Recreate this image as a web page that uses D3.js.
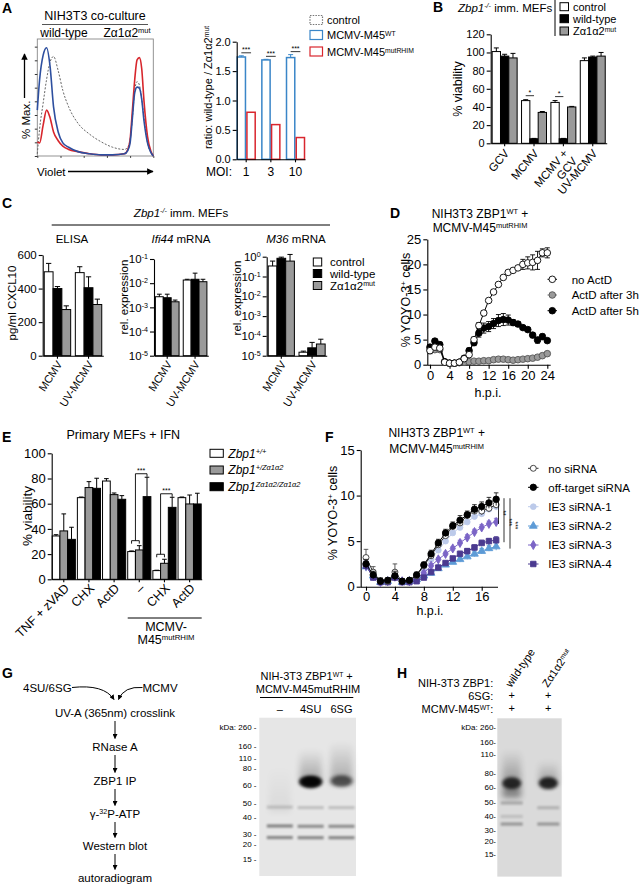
<!DOCTYPE html>
<html><head><meta charset="utf-8">
<script src="https://cdn.jsdelivr.net/npm/d3@7/dist/d3.min.js"></script>
<style>html,body{margin:0;padding:0;background:#fff}svg{display:block}</style>
</head><body>
<svg id="fig" width="639" height="886" font-family="'Liberation Sans', Arial, Helvetica, sans-serif"></svg>
<script>
// ================= DATA =================
// A: flow histogram (% of max vs violet channel)
const histChannel = [0,2,5,8,11,14,18,22,27,35,45,55,65,75,78,80,82,84,86,88,90,92,95,98,100];
const histControl = [2,25,48,70,86,91,78,60,45,30,20,13,8,6,8,15,35,60,68,65,52,35,12,3,0];
const histM45WT   = [42,70,92,99,82,45,22,12,8,4,2,1,1,2,5,12,35,58,63,62,52,32,12,3,0];
const histM45mut  = [13,12,28,42,35,22,14,9,6,4,2,1,1,2,6,15,42,70,88,90,80,50,18,4,0];
// A: ratio bars
const moiLabels = ["1","3","10"];
const ratioM45WT = [1.74,1.69,1.73];
const ratioM45WTErr = [0.02,0.01,0.05];
const ratioM45mut = [0.80,0.59,0.37];
const ratioTicks = [0,0.5,1,1.5,2];
// B
const bCats = ["GCV","MCMV","MCMV +\nGCV","UV-MCMV"];
const bControl = [101,47,45,91], bControlErr = [4,1,2,3];
const bWT = [96,5,5,95], bWTErr = [2,0.4,0.4,1];
const bMut = [94,34,40,96], bMutErr = [5,1,0.6,4];
const bTicks = [0,20,40,60,80,100,120];
// C
const cCats = ["MCMV","UV-MCMV"];
const elisaControl = [500,495], elisaControlErr = [50,35];
const elisaWT = [400,405], elisaWTErr = [12,65];
const elisaMut = [275,305], elisaMutErr = [22,32];
const elisaTicks = [0,200,400,600];
const ifi44Control = [2.75e-3,1.35e-2], ifi44ControlTop = [3.5e-3,1.45e-2];
const ifi44WT = [2.5e-3,1.45e-2], ifi44WTTop = [3.5e-3,2.6e-2];
const ifi44Mut = [1.7e-3,1.15e-2], ifi44MutTop = [2.0e-3,1.45e-2];
const ifi44Ticks = [1e-5,1e-4,1e-3,1e-2,1e-1];
const m36Control = [0.34,1.5e-5], m36ControlTop = [0.6,1.7e-5];
const m36WT = [0.83,2.5e-5], m36WTTop = [0.95,4.7e-5];
const m36Mut = [0.6,3.9e-5], m36MutTop = [1.3,6.8e-5];
const m36Ticks = [1e-5,1e-4,1e-3,1e-2,1e-1,1];
// D
const dHours = [0,1,2,3,4,5,6,7,8,9,10,11,12,13,14,15,16,17,18,19,20,21,22,23,24];
const dNoActD = [2.8,3.5,3.3,0.5,0.3,0.3,0.5,1.2,2.0,5.0,7.8,10.3,12.8,14.5,16.0,17.4,18.4,18.8,19.3,20.0,20.3,20.4,20.8,22.3,22.3];
const dNoActDErr = [0.6,0.5,0.4,0.2,0.1,0.1,0.1,0.2,0.3,0.5,0.6,0.5,0.4,0.4,0.4,0.4,0.4,0.4,0.4,1.0,1.2,1.5,1.8,0.8,1.0];
const dActD3h = [3.0,3.0,3.0,0.5,0.3,0.3,0.4,0.5,0.6,0.7,0.7,0.8,0.8,1.0,1.1,1.1,1.0,0.9,1.0,1.1,1.2,1.3,1.5,1.8,2.2];
const dActD3hErr = [0.4,0.3,0.3,0.1,0.1,0.1,0.1,0.1,0.1,0.1,0.1,0.1,0.1,0.2,0.4,0.3,0.2,0.2,0.2,0.2,0.2,0.2,0.2,0.2,0.3];
const dActD5h = [3.5,4.7,4.0,0.6,0.3,0.3,0.5,1.3,2.8,4.4,6.3,7.3,7.6,8.2,8.8,9.0,8.9,8.4,8.1,7.4,7.0,5.9,4.9,5.6,4.8];
const dActD5hErr = [0.5,0.4,0.5,0.1,0.1,0.1,0.1,0.3,0.5,0.6,0.8,1.0,1.0,1.0,1.2,1.2,1.0,0.6,0.5,0.4,0.4,0.5,0.6,0.5,0.4];
const dTicksX = [0,4,8,12,16,20,24], dTicksY = [0,5,10,15,20,25];
const dLegend = ["no ActD","ActD after 3h","ActD after 5h"];
// E
const eCats = ["TNF + zVAD","CHX","ActD","–","CHX","ActD"];
const eWT = [34.4,64.8,78,22,6.9,64.8], eWTErr = [1,0.5,1.9,0.5,0.3,0.5];
const eHet = [38.4,72.8,67.2,23.3,12.7,59.8], eHetErr = [13.5,4.7,1.3,3.4,3.2,7.1];
const eHom = [31.7,72.2,63.5,65.6,57.1,59.8], eHomErr = [9.6,8,2.9,15.4,8,8.5];
const eTicks = [0,20,40,60,80,100];
// F
const fHours = [0,1,2,3,4,5,6,7,8,9,10,11,12,13,14,15,16,17,18];
const fNoSi   = [3.2,1.6,0.6,0.6,1.6,0.6,0.7,1.2,2.3,3.4,4.6,5.6,6.6,7.0,7.8,8.3,8.3,8.6,9.0];
const fNoSiErr= [0.9,0.6,0.4,0.3,0.9,0.3,0.3,0.3,0.3,0.3,0.3,0.3,0.3,0.3,0.3,0.3,0.4,0.4,0.4];
const fOffT   = [2.5,1.3,0.6,0.7,1.2,0.6,0.7,1.3,2.4,3.6,4.8,5.9,6.7,7.3,7.9,8.5,8.8,9.2,9.6];
const fOffTErr= [0.5,0.4,0.3,0.3,0.5,0.3,0.3,0.3,0.3,0.4,0.4,0.4,0.4,0.5,0.4,0.5,0.5,0.6,0.7];
const fSi1 = [2.3,1.2,0.5,0.6,1.0,0.6,0.7,1.1,1.9,3.0,4.0,5.0,5.9,6.5,7.1,7.7,8.0,8.5,8.8];
const fSi2 = [2.2,1.2,0.5,0.6,1.1,0.5,0.6,0.8,1.2,1.5,2.0,2.4,2.7,3.0,3.3,3.6,3.9,4.2,4.4];
const fSi3 = [2.3,1.2,0.5,0.6,1.1,0.6,0.6,0.9,1.5,2.3,3.0,3.6,4.2,4.8,5.4,6.0,6.5,6.9,7.1];
const fSi4 = [2.3,1.0,0.5,0.5,1.0,0.5,0.5,0.6,1.0,1.6,2.1,2.6,3.1,3.6,3.9,4.3,4.8,5.0,5.1];
const fSiErr = [0.5,0.3,0.2,0.2,0.3,0.2,0.2,0.2,0.2,0.2,0.2,0.2,0.2,0.3,0.3,0.3,0.3,0.3,0.4];
const fTicksX = [0,4,8,12,16], fTicksY = [0,5,10,15];
const fLegend = ["no siRNA","off-target siRNA","IE3 siRNA-1","IE3 siRNA-2","IE3 siRNA-3","IE3 siRNA-4"];
const fSigLabels = ["**","***","***"];
// G
const gSteps = ["UV-A (365nm) crosslink","RNase A","ZBP1 IP","γ-|32|P-ATP","Western blot","autoradiogram"];
const gLanes = ["–","4SU","6SG"];
const gMarkers = [260,160,110,80,60,50,40,30,20,15];
const gMarkerMig = [0.057,0.179,0.256,0.32,0.425,0.541,0.629,0.737,0.797,0.894];
const gBandsData = [["–",0.565,0.15],["–",0.684,0.42],["–",0.757,0.4],
  ["4SU",0.568,0.16],["4SU",0.686,0.38],["4SU",0.758,0.4],
  ["6SG",0.568,0.16],["6SG",0.686,0.38],["6SG",0.758,0.4]];
const gBlobs = [["4SU",0.405,1.0],["6SG",0.40,0.42]];
const gSmears = [["4SU",0.2,0.41,0.3],["6SG",0.15,0.42,0.28],["–",0.3,0.6,0.05]];
// H
const hLanes = ["wild-type","Zα1α2mut"];
const hMarkers = [260,160,110,80,60,50,40,30,20,15];
const hMarkerMig = [0.057,0.148,0.227,0.344,0.438,0.533,0.617,0.706,0.775,0.859];
const hBandsData = [["wild-type",0.535,0.22],["wild-type",0.62,0.12],["wild-type",0.668,0.3],
  ["Zα1α2mut",0.565,0.18],["Zα1α2mut",0.668,0.3]];
const hBlobs = [["wild-type",0.41,0.62],["Zα1α2mut",0.41,0.68]];
const hSmears = [["wild-type",0.2,0.5,0.45],["Zα1α2mut",0.27,0.42,0.3]];

// ================= HELPERS =================
const svg = d3.select("#fig");
const defs = svg.append("defs");
defs.append("marker").attr("id","arrow").attr("viewBox","0 0 10 10").attr("refX",9).attr("refY",5)
  .attr("markerWidth",5).attr("markerHeight",5).attr("orient","auto")
  .append("path").attr("d","M0,0 L10,5 L0,10 z").attr("fill","#000");
[["b1",0.8],["b2",1.8],["b3",3]].forEach(([id,s]) => defs.append("filter").attr("id",id)
  .attr("x","-60%").attr("y","-60%").attr("width","220%").attr("height","220%")
  .append("feGaussianBlur").attr("stdDeviation",s));
const sg = defs.append("linearGradient").attr("id","smearGrad").attr("x1",0).attr("x2",0).attr("y1",0).attr("y2",1);
sg.append("stop").attr("offset","0").attr("stop-color","#000").attr("stop-opacity",0);
sg.append("stop").attr("offset","1").attr("stop-color","#000").attr("stop-opacity",1);

function rich(g, x, y, parts, o = {}) {
  const t = g.append("text").attr("font-size", o.size || 11).attr("text-anchor", o.anchor || "start").attr("fill", "#000");
  if (o.rot != null) t.attr("transform", `translate(${x},${y}) rotate(${o.rot})`);
  else t.attr("x", x).attr("y", y);
  if (o.bold) t.attr("font-weight", "bold");
  if (o.italic) t.attr("font-style", "italic");
  const arr = typeof parts === "string" ? [[parts, ""]] : parts;
  arr.forEach(([s, st = ""]) => {
    const ts = t.append("tspan").text(s);
    if (st.includes("^")) ts.attr("baseline-shift", "super").attr("font-size", "0.62em");
    if (st.includes("i")) ts.attr("font-style", "italic");
  });
  return t;
}
function styleAx(sel, size) {
  sel.attr("font-family", null).attr("font-size", size);
  sel.selectAll("path,line").attr("stroke", "#000").attr("stroke-width", 1.1);
  sel.selectAll("text").attr("fill", "#000");
}
function logLabels(sel) {
  sel.selectAll(".tick text").each(function(d) {
    const e = Math.round(Math.log10(d));
    const t = d3.select(this).text("");
    t.append("tspan").text("10");
    t.append("tspan").attr("baseline-shift","super").attr("font-size","0.62em").text(e);
  });
}
function rotLabel(g, x, y, label, rot, size) {
  const t = g.append("text").attr("transform", `translate(${x},${y}) rotate(${rot})`)
    .attr("text-anchor", "end").attr("font-size", size).attr("fill", "#000");
  label.split("\n").forEach((l, i) => t.append("tspan").attr("x", 0).attr("dy", i === 0 ? "0.35em" : "1.05em").text(l));
}
function barChart(g, o) {
  const x = d3.scaleBand().domain(d3.range(o.cats.length)).range([o.x0, o.x1]).paddingInner(o.pi).paddingOuter(o.po);
  const xs = d3.scaleBand().domain(d3.range(o.series.length)).range([0, x.bandwidth()]).paddingInner(o.inner || 0);
  const y = (o.log ? d3.scaleLog() : d3.scaleLinear()).domain(o.yDomain).range([o.yBot, o.yTop]);
  const base = o.yDomain[0];
  o.series.forEach((s, si) => {
    g.append("g").selectAll("rect").data(s.vals).join("rect")
      .attr("x", (d, i) => x(i) + xs(si)).attr("width", xs.bandwidth())
      .attr("y", d => y(d)).attr("height", d => y(base) - y(d))
      .attr("fill", s.fill).attr("stroke", s.stroke || "#000").attr("stroke-width", s.sw || 1);
  });
  o.series.forEach((s, si) => {
    if (!s.err) return;
    const eg = g.append("g").attr("stroke", s.stroke || "#000").attr("stroke-width", 1);
    s.vals.forEach((d, i) => {
      const cx = x(i) + xs(si) + xs.bandwidth() / 2, w = xs.bandwidth() * 0.3;
      const yt = y(o.log ? s.err[i] : d + s.err[i]);
      eg.append("line").attr("x1", cx).attr("x2", cx).attr("y1", y(d)).attr("y2", yt);
      eg.append("line").attr("x1", cx - w).attr("x2", cx + w).attr("y1", yt).attr("y2", yt);
    });
  });
  const ya = g.append("g").attr("transform", `translate(${o.x0},0)`)
    .call(d3.axisLeft(y).tickValues(o.yTicks).tickSize(4).tickPadding(2).tickSizeOuter(0).tickFormat(o.fmt || (d => d)));
  styleAx(ya, o.font || 11);
  if (o.log) logLabels(ya);
  const xa = g.append("g").attr("transform", `translate(0,${o.yBot})`)
    .call(d3.axisBottom(x).tickSize(3).tickSizeOuter(0).tickFormat(""));
  styleAx(xa, o.font || 11);
  return { x, xs, y };
}
function symFor(type, size) { return d3.symbol().type(type).size(size)(); }

// ================= PANEL LETTERS =================
[["A",2,13],["B",433,12],["C",2,208],["D",390,218],["E",2,442],["F",325,442],["G",2,678],["H",397,678]]
  .forEach(([l,x,y]) => rich(svg, x, y, l, {size:14, bold:true}));

// ================= PANEL A =================
const gA = svg.append("g");
rich(gA, 95, 20, "NIH3T3 co-culture", {size:12.5, anchor:"middle"});
gA.append("line").attr("x1",42).attr("x2",148).attr("y1",24.5).attr("y2",24.5).attr("stroke","#555").attr("stroke-width",1);
rich(gA, 64, 36.5, "wild-type", {size:12, anchor:"middle"});
rich(gA, 127, 36.5, [["Zα1α2"],["mut","^"]], {size:12, anchor:"middle"});
const hx = d3.scaleLinear().domain([0,100]).range([37.3,153.3]);
const hy = d3.scaleLinear().domain([0,107]).range([156,39]);
gA.append("rect").attr("x",37.3).attr("y",39).attr("width",116).attr("height",117).attr("fill","none").attr("stroke","#888").attr("stroke-width",0.9);
gA.append("g").attr("transform","translate(37.3,0)")
  .call(d3.axisLeft(hy).tickValues([0,12.5,25,37.5,50,62.5,75,87.5,100]).tickSize(2.5).tickSizeOuter(0).tickFormat(""))
  .call(s => { styleAx(s, 8); s.selectAll("line").attr("stroke-width",0.8); s.select(".domain").remove(); });
const hlog = d3.scaleLog().domain([1,1e5]).range([37.3,153.3]);
gA.append("g").attr("transform","translate(0,156)")
  .call(d3.axisBottom(hlog).ticks(5).tickSize(2).tickSizeOuter(0).tickFormat(""))
  .call(s => { styleAx(s, 8); s.selectAll("line").attr("stroke-width",0.7); s.select(".domain").remove(); });
const hLine = vals => d3.line().curve(d3.curveMonotoneX).x((d,i) => hx(histChannel[i])).y(d => hy(d))(vals);
gA.append("path").attr("d", hLine(histControl)).attr("fill","none").attr("stroke","#666").attr("stroke-width",1).attr("stroke-dasharray","2,1.6");
gA.append("path").attr("d", hLine(histM45mut)).attr("fill","none").attr("stroke","#d7262c").attr("stroke-width",1.6);
gA.append("path").attr("d", hLine(histM45WT)).attr("fill","none").attr("stroke","#2d4f9f").attr("stroke-width",1.6);
gA.append("line").attr("x1",24.5).attr("x2",24.5).attr("y1",98).attr("y2",54).attr("stroke","#000").attr("stroke-width",1.3).attr("marker-end","url(#arrow)");
rich(gA, 29.5, 139, "% Max.", {size:11.5, rot:-90});
rich(gA, 37, 175.5, "Violet", {size:11.5});
gA.append("line").attr("x1",68).attr("x2",153).attr("y1",171.5).attr("y2",171.5).attr("stroke","#000").attr("stroke-width",1.3).attr("marker-end","url(#arrow)");

// A bars
const gAb = svg.append("g");
const ab = barChart(gAb, {x0:236.7, x1:305, yTop:41.7, yBot:159.3, yDomain:[0,2], yTicks:ratioTicks,
  fmt: d3.format(".1f"), cats: moiLabels, pi:0.27, po:0.02, inner:0.15, font:11,
  series:[{vals:ratioM45WT, err:ratioM45WTErr, fill:"#fff", stroke:"#3a86c8", sw:1.5},
          {vals:ratioM45mut, fill:"#fff", stroke:"#d9262e", sw:1.5}]});
moiLabels.forEach((l,i) => {
  rich(gAb, ab.x(i) + ab.x.bandwidth()/2, 176, l, {size:12, anchor:"middle"});
  const c1 = ab.x(i) + ab.xs(0) + ab.xs.bandwidth()/2, c2 = ab.x(i) + ab.xs(1) + ab.xs.bandwidth()/2;
  const yl = ab.y(ratioM45WT[i] + ratioM45WTErr[i]) - 3;
  gAb.append("line").attr("x1",c1).attr("x2",c2).attr("y1",yl).attr("y2",yl).attr("stroke","#000").attr("stroke-width",0.8);
  rich(gAb, (c1+c2)/2, yl - 0.5, "***", {size:7, anchor:"middle"});
});
rich(gAb, 206, 176, "MOI:", {size:12});
rich(gAb, 212, 87.5, [["ratio: wild-type / Zα1α2"],["mut","^"]], {size:11, rot:-90, anchor:"middle"});
// A legend
const aLeg = [
  {parts:[["control"]], stroke:"#777", dash:"1.5,1.2"},
  {parts:[["MCMV-M45"],["WT","^"]], stroke:"#3a86c8"},
  {parts:[["MCMV-M45"],["mutRHIM","^"]], stroke:"#d9262e"}];
aLeg.forEach((d,i) => {
  const cy = [20,35,51.5][i];
  const r = gAb.append("rect").attr("x",310).attr("y",cy-4.5).attr("width",12.5).attr("height",9).attr("fill","#fff").attr("stroke",d.stroke).attr("stroke-width",1.2);
  if (d.dash) r.attr("stroke-dasharray",d.dash);
  rich(gAb, 327, cy+4, d.parts, {size:11});
});

// ================= PANEL B =================
const gB = svg.append("g");
const bb = barChart(gB, {x0:490.7, x1:606.7, yTop:34.3, yBot:143.3, yDomain:[0,120], yTicks:bTicks,
  cats:bCats, pi:0.15, po:0.05, font:11,
  series:[{vals:bControl, err:bControlErr, fill:"#fff"},
          {vals:bWT, err:bWTErr, fill:"#000"},
          {vals:bMut, err:bMutErr, fill:"#9a9a9a"}]});
bCats.forEach((c,i) => rotLabel(gB, bb.x(i) + bb.x.bandwidth()/2 + 2, 151, c, -50, 11.5));
[1,2].forEach(i => {
  const c1 = bb.x(i) + bb.xs(0) + bb.xs.bandwidth()/2, c2 = bb.x(i) + bb.xs(1) + bb.xs.bandwidth()/2;
  const yl = bb.y(bControl[i] + bControlErr[i]) - 4;
  gB.append("line").attr("x1",c1).attr("x2",c2).attr("y1",yl).attr("y2",yl).attr("stroke","#000").attr("stroke-width",0.8);
  rich(gB, (c1+c2)/2, yl - 0.5, "*", {size:7, anchor:"middle"});
});
rich(gB, 462, 89, "% viability", {size:12.5, rot:-90, anchor:"middle"});
rich(gB, 458, 12, [["Zbp1","i"],["-/-","^i"],[" imm. MEFs"]], {size:11.5});
gB.append("line").attr("x1",555).attr("x2",555).attr("y1",0).attr("y2",36).attr("stroke","#000").attr("stroke-width",1);
[["control","#fff"],["wild-type","#000"],[[["Zα1α2"],["mut","^"]],"#9a9a9a"]].forEach(([l,f],i) => {
  const cy = [6.7,18.7,31][i];
  gB.append("rect").attr("x",560).attr("y",cy-4).attr("width",8.5).attr("height",8).attr("fill",f).attr("stroke","#000").attr("stroke-width",1);
  rich(gB, 573, cy+4, l, {size:11});
});

// ================= PANEL C =================
const gC = svg.append("g");
rich(gC, 181, 216.5, [["Zbp1","i"],["-/-","^i"],[" imm. MEFs"]], {size:11.5, anchor:"middle"});
gC.append("line").attr("x1",51.7).attr("x2",330).attr("y1",225).attr("y2",225).attr("stroke","#000").attr("stroke-width",1);
const cSeries = (a,ae,b,be,c,ce) => [{vals:a, err:ae, fill:"#fff"},{vals:b, err:be, fill:"#000"},{vals:c, err:ce, fill:"#9a9a9a"}];
const c1 = barChart(gC, {x0:42.7, x1:103.3, yTop:255, yBot:355.7, yDomain:[0,600], yTicks:elisaTicks,
  cats:cCats, pi:0.15, po:0.05, font:11.5, series:cSeries(elisaControl,elisaControlErr,elisaWT,elisaWTErr,elisaMut,elisaMutErr)});
const c2 = barChart(gC, {x0:154, x1:208.3, yTop:259, yBot:355.7, yDomain:[1e-5,1e-1], log:true, yTicks:ifi44Ticks,
  cats:cCats, pi:0.15, po:0.05, font:11.5, series:cSeries(ifi44Control,ifi44ControlTop,ifi44WT,ifi44WTTop,ifi44Mut,ifi44MutTop)});
const c3 = barChart(gC, {x0:266.7, x1:326.7, yTop:256.7, yBot:355.7, yDomain:[1e-5,1], log:true, yTicks:m36Ticks,
  cats:cCats, pi:0.15, po:0.05, font:11.5, series:cSeries(m36Control,m36ControlTop,m36WT,m36WTTop,m36Mut,m36MutTop)});
[c1,c2,c3].forEach(c => cCats.forEach((l,i) => rotLabel(gC, c.x(i) + c.x.bandwidth()/2 + 2, 362, l, -57, 11)));
rich(gC, 72, 243, "ELISA", {size:11.5, anchor:"middle"});
rich(gC, 181, 243, [["Ifi44","i"],[" mRNA"]], {size:11.5, anchor:"middle"});
rich(gC, 296, 243, [["M36","i"],[" mRNA"]], {size:11.5, anchor:"middle"});
rich(gC, 16, 303, "pg/ml CXCL10", {size:11.5, rot:-90, anchor:"middle"});
rich(gC, 127.5, 297, "rel. expression", {size:11.5, rot:-90, anchor:"middle"});
rich(gC, 241, 298, "rel. expression", {size:11.5, rot:-90, anchor:"middle"});
[["control","#fff"],["wild-type","#000"],[[["Zα1α2"],["mut","^"]],"#9a9a9a"]].forEach(([l,f],i) => {
  const cy = [262,273.5,285.5][i];
  gC.append("rect").attr("x",313.3).attr("y",cy-4).attr("width",8.4).attr("height",8).attr("fill",f).attr("stroke","#000").attr("stroke-width",1);
  rich(gC, 330, cy+4, l, {size:11.5});
});

// ================= PANEL D =================
const gD = svg.append("g");
const dxs = d3.scaleLinear().domain([0,24]).range([430,547.3]);
const dys = d3.scaleLinear().domain([0,25]).range([364.7,239.3]);
gD.append("g").attr("transform","translate(427.3,0)")
  .call(d3.axisLeft(dys).tickValues(dTicksY).tickSize(4).tickPadding(2).tickSizeOuter(0)).call(s => styleAx(s, 13));
gD.append("g").attr("transform","translate(0,364.7)")
  .call(d3.axisBottom(dxs).tickValues(dTicksX).tickSize(4).tickPadding(2).tickSizeOuter(0))
  .call(s => { styleAx(s, 13); s.select(".domain").attr("d","M427.3,0.5H550.7"); });
rich(gD, 480, 218.3, [["NIH3T3 ZBP1"],["WT","^"],[" +"]], {size:12, anchor:"middle"});
rich(gD, 480, 231.7, [["MCMV-M45"],["mutRHIM","^"]], {size:12, anchor:"middle"});
rich(gD, 410, 300, [["% YOYO-3"],["+","^"],[" cells"]], {size:12.5, rot:-90, anchor:"middle"});
rich(gD, 488, 397, "h.p.i.", {size:12.5, anchor:"middle"});
const dSeries = [
  {vals:dActD3h, err:dActD3hErr, fill:"#9a9a9a", stroke:"#555", line:"#777"},
  {vals:dActD5h, err:dActD5hErr, fill:"#000", stroke:"#000", line:"#000"},
  {vals:dNoActD, err:dNoActDErr, fill:"#fff", stroke:"#000", line:"#000"}];
dSeries.forEach(s => {
  gD.append("path").attr("d", d3.line().x((d,i) => dxs(dHours[i])).y(d => dys(d))(s.vals)).attr("fill","none").attr("stroke",s.line).attr("stroke-width",1);
  const eg = gD.append("g").attr("stroke",s.line).attr("stroke-width",0.9);
  s.vals.forEach((v,i) => {
    const cx = dxs(dHours[i]);
    eg.append("line").attr("x1",cx).attr("x2",cx).attr("y1",dys(v-s.err[i])).attr("y2",dys(v+s.err[i]));
    [v-s.err[i], v+s.err[i]].forEach(e => eg.append("line").attr("x1",cx-2.5).attr("x2",cx+2.5).attr("y1",dys(e)).attr("y2",dys(e)));
  });
  gD.append("g").selectAll("circle").data(s.vals).join("circle").attr("cx",(d,i) => dxs(dHours[i])).attr("cy",d => dys(d))
    .attr("r",3.3).attr("fill",s.fill).attr("stroke",s.stroke).attr("stroke-width",0.9);
});
[dSeries[2], dSeries[0], dSeries[1]].forEach((s,i) => {
  const cy = [279.3,295,310.7][i];
  gD.append("line").attr("x1",547.5).attr("x2",557).attr("y1",cy).attr("y2",cy).attr("stroke",s.line).attr("stroke-width",1);
  gD.append("circle").attr("cx",552.3).attr("cy",cy).attr("r",3.3).attr("fill",s.fill).attr("stroke",s.stroke).attr("stroke-width",0.9);
  rich(gD, 571.7, cy+4.2, dLegend[i], {size:11.5});
});

// ================= PANEL E =================
const gE = svg.append("g");
const eb = barChart(gE, {x0:51.7, x1:201.7, yTop:453.3, yBot:579.3, yDomain:[0,100], yTicks:eTicks,
  cats:eCats, pi:0.08, po:0.02, font:13,
  series:[{vals:eWT, err:eWTErr, fill:"#fff"},{vals:eHet, err:eHetErr, fill:"#9a9a9a"},{vals:eHom, err:eHomErr, fill:"#000"}]});
eCats.forEach((c,i) => rotLabel(gE, eb.x(i) + eb.x.bandwidth()/2 + 3, 586, c, -45, 12.5));
rich(gE, 123.3, 439.3, "Primary MEFs + IFN", {size:12.5, anchor:"middle"});
rich(gE, 32, 516, "% viability", {size:13.5, rot:-90, anchor:"middle"});
[3,4].forEach(i => {
  const cx = k => eb.x(i) + eb.xs(k) + eb.xs.bandwidth()/2;
  const by = eb.y(Math.max(eWT[i]+eWTErr[i], eHet[i]+eHetErr[i])) - 5;
  const ty = eb.y(eHom[i]+eHomErr[i]) - 3.5;
  const mid = (cx(0)+cx(1))/2;
  gE.append("path").attr("d",`M${cx(0)},${by+3}V${by}H${cx(1)}V${by+3}M${mid},${by}V${ty}H${cx(2)}V${ty+3}`)
    .attr("fill","none").attr("stroke","#000").attr("stroke-width",0.9);
  rich(gE, (mid+cx(2))/2, ty - 1, "***", {size:7, anchor:"middle"});
});
gE.append("line").attr("x1",eb.x(3)).attr("x2",201.7).attr("y1",618).attr("y2",618).attr("stroke","#000").attr("stroke-width",1);
rich(gE, 166, 631, "MCMV-", {size:12.5, anchor:"middle"});
rich(gE, 166, 644, [["M45"],["mutRHIM","^"]], {size:12.5, anchor:"middle"});
const eLeg = [[[["Zbp1"],["+/+","^"]],"#fff"],[[["Zbp1"],["+/Zα1α2","^"]],"#9a9a9a"],[[["Zbp1"],["Zα1α2/Zα1α2","^"]],"#000"]];
eLeg.forEach(([l,f],i) => {
  const cy = [453.3,470,486.7][i];
  gE.append("rect").attr("x",210).attr("y",cy-4).attr("width",13.3).attr("height",8).attr("fill",f).attr("stroke","#000").attr("stroke-width",1);
  rich(gE, 228.3, cy+4.3, l, {size:12, italic:true});
});

// ================= PANEL F =================
const gF = svg.append("g");
const fxs = d3.scaleLinear().domain([0,16]).range([366,481.7]);
const fys = d3.scaleLinear().domain([0,15]).range([586.7,450]);
gF.append("g").attr("transform","translate(360.7,0)")
  .call(d3.axisLeft(fys).tickValues(fTicksY).tickSize(4).tickPadding(2).tickSizeOuter(0)).call(s => styleAx(s, 13));
gF.append("g").attr("transform","translate(0,586.7)")
  .call(d3.axisBottom(fxs).tickValues(fTicksX).tickSize(4).tickPadding(1.5).tickSizeOuter(0))
  .call(s => { styleAx(s, 13); s.select(".domain").attr("d","M360.7,0.5H498"); });
rich(gF, 436.7, 437.3, [["NIH3T3 ZBP1"],["WT","^"],[" +"]], {size:12, anchor:"middle"});
rich(gF, 436.7, 453.3, [["MCMV-M45"],["mutRHIM","^"]], {size:12, anchor:"middle"});
rich(gF, 337, 513, [["% YOYO-3"],["+","^"],[" cells"]], {size:12.5, rot:-90, anchor:"middle"});
rich(gF, 430, 615, "h.p.i.", {size:12.5, anchor:"middle"});
const fSeries = [
  {vals:fSi1, err:fSiErr, type:d3.symbolCircle, fill:"#bccaea", stroke:"#bccaea", line:"#bccaea", size:26},
  {vals:fSi2, err:fSiErr, type:d3.symbolTriangle, fill:"#5d9bd6", stroke:"#5d9bd6", line:"#5d9bd6", size:26},
  {vals:fSi3, err:fSiErr, type:d3.symbolDiamond, fill:"#7b64c6", stroke:"#7b64c6", line:"#7b64c6", size:24},
  {vals:fSi4, err:fSiErr, type:d3.symbolSquare, fill:"#4b3a90", stroke:"#4b3a90", line:"#4b3a90", size:30},
  {vals:fNoSi, err:fNoSiErr, type:d3.symbolCircle, fill:"#fff", stroke:"#333", line:"#333", size:28},
  {vals:fOffT, err:fOffTErr, type:d3.symbolCircle, fill:"#000", stroke:"#000", line:"#000", size:32}];
fSeries.forEach(s => {
  gF.append("path").attr("d", d3.line().x((d,i) => fxs(fHours[i])).y(d => fys(d))(s.vals)).attr("fill","none").attr("stroke",s.line).attr("stroke-width",1);
  const eg = gF.append("g").attr("stroke",s.line).attr("stroke-width",0.8);
  s.vals.forEach((v,i) => {
    const cx = fxs(fHours[i]);
    eg.append("line").attr("x1",cx).attr("x2",cx).attr("y1",fys(v-s.err[i])).attr("y2",fys(v+s.err[i]));
    eg.append("line").attr("x1",cx-2.3).attr("x2",cx+2.3).attr("y1",fys(v+s.err[i])).attr("y2",fys(v+s.err[i]));
  });
  gF.append("g").selectAll("path").data(s.vals).join("path").attr("d", symFor(s.type, s.size))
    .attr("transform",(d,i) => `translate(${fxs(fHours[i])},${fys(d)})`)
    .attr("fill",s.fill).attr("stroke",s.stroke).attr("stroke-width",0.9);
});
const fLegOrder = [4,5,0,1,2,3];
fLegOrder.forEach((si,i) => {
  const s = fSeries[si], cy = [468.3,487.3,506.7,526,545,564][i];
  gF.append("line").attr("x1",528).attr("x2",538.5).attr("y1",cy).attr("y2",cy).attr("stroke",s.line).attr("stroke-width",1);
  gF.append("path").attr("d", symFor(s.type, s.size)).attr("transform",`translate(533.3,${cy})`).attr("fill",s.fill).attr("stroke",s.stroke).attr("stroke-width",0.9);
  rich(gF, 548.3, cy+4.2, fLegend[i], {size:11.5});
});
const lastI = fHours.length - 1;
[fSi3, fSi4, fSi2].forEach((tgt,k) => {
  const lx = [498.5,504,510][k];
  const y1 = fys(fOffT[lastI]) - 1, y2 = fys(tgt[lastI]) + 2;
  gF.append("line").attr("x1",lx).attr("x2",lx).attr("y1",y1).attr("y2",y2).attr("stroke","#000").attr("stroke-width",0.8);
  rich(gF, lx + 2.5, (y1+y2)/2 + 2, fSigLabels[k], {size:6.5, rot:90, anchor:"middle"});
});

// ================= PANEL G =================
const gG = svg.append("g");
rich(gG, 47.3, 691.7, "4SU/6SG", {size:11.5, anchor:"middle"});
rich(gG, 160, 691.7, "MCMV", {size:11.5, anchor:"middle"});
gG.append("path").attr("d","M72,687.5 Q104,684 114,699.5").attr("fill","none").attr("stroke","#000").attr("stroke-width",1).attr("marker-end","url(#arrow)");
gG.append("path").attr("d","M142.5,687.5 Q124,686 118.5,699.5").attr("fill","none").attr("stroke","#000").attr("stroke-width",1).attr("marker-end","url(#arrow)");
const stepY = [717,751,785,818,850,882];
gSteps.forEach((s,i) => {
  const p = s.split("|");
  const parts = p.length > 1 ? [[p[0]],[p[1],"^"],[p[2]]] : [[s]];
  rich(gG, 115, stepY[i], parts, {size:11.5, anchor:"middle"});
  if (i < gSteps.length - 1)
    gG.append("line").attr("x1",115).attr("x2",115).attr("y1",stepY[i]+4).attr("y2",stepY[i+1]-12.5)
      .attr("stroke","#000").attr("stroke-width",1).attr("marker-end","url(#arrow)");
});
function blot(g, o) {
  g.append("rect").attr("x",o.x).attr("y",o.y).attr("width",o.w).attr("height",o.h).attr("fill",o.bg);
  const lx = d3.scalePoint().domain(o.lanes).range([o.x + o.pad[0], o.x + o.w - o.pad[1]]);
  const my = d3.scaleLinear().domain([0,1]).range([o.y, o.y + o.h]);
  o.smears.forEach(([lane,m0,m1,k]) => g.append("rect").attr("x",lx(lane)-o.bw*0.42).attr("width",o.bw*0.84)
    .attr("y",my(m0)).attr("height",my(m1)-my(m0)).attr("fill","url(#smearGrad)").attr("opacity",k).attr("filter","url(#b3)"));
  o.blobs.forEach(([lane,m,k]) => {
    g.append("ellipse").attr("cx",lx(lane)).attr("cy",my(m)).attr("rx",o.bw*0.46).attr("ry",o.h*0.042)
      .attr("fill","#000").attr("opacity",k*0.8).attr("filter","url(#b2)");
    g.append("ellipse").attr("cx",lx(lane)).attr("cy",my(m)).attr("rx",o.bw*0.36).attr("ry",o.h*0.03)
      .attr("fill","#000").attr("opacity",k*0.85).attr("filter","url(#b1)");
  });
  o.bands.forEach(([lane,m,k]) => g.append("rect").attr("x",lx(lane)-o.bw*0.5).attr("width",o.bw)
    .attr("y",my(m)-1.6).attr("height",3.2).attr("fill","#000").attr("opacity",k).attr("filter","url(#b1)"));
  o.markers.forEach((kd,i) => g.append("text").attr("x",o.labelX).attr("y",my(o.markerMig[i])).attr("dy","0.35em")
    .attr("text-anchor","end").attr("font-size",8).attr("fill","#000").text((i === 0 ? "kDa: " : "") + kd + o.dash));
  return lx;
}
rich(gG, 306.7, 680, [["NIH-3T3 ZBP1"],["WT","^"],[" +"]], {size:11, anchor:"middle"});
rich(gG, 308, 693, "MCMV-M45mutRHIM", {size:11, anchor:"middle"});
gG.append("line").attr("x1",260).attr("x2",353.3).attr("y1",697.5).attr("y2",697.5).attr("stroke","#000").attr("stroke-width",1);
const glx = blot(gG, {x:259.3, y:717.7, w:96.7, h:158.3, bg:"#e6e6e6", lanes:gLanes, pad:[20.5,14.5], bw:26,
  markers:gMarkers, markerMig:gMarkerMig, bands:gBandsData, blobs:gBlobs, smears:gSmears, labelX:256.5, dash:" -"});
gLanes.forEach(l => rich(gG, glx(l), 713, l, {size:11, anchor:"middle"}));

// ================= PANEL H =================
const gH = svg.append("g");
rich(gH, 493.3, 686.7, "NIH-3T3 ZBP1:", {size:11, anchor:"end"});
rich(gH, 493.3, 700, "6SG:", {size:11, anchor:"end"});
rich(gH, 493.3, 713.3, [["MCMV-M45"],["WT","^"],[":"]], {size:11, anchor:"end"});
const hlx = blot(gH, {x:497.3, y:718.3, w:64.4, h:158.3, bg:"#dadada", lanes:hLanes, pad:[14.4,13.4], bw:22,
  markers:hMarkers, markerMig:hMarkerMig, bands:hBandsData, blobs:hBlobs, smears:hSmears, labelX:496, dash:"-"});
hLanes.forEach((l,i) => {
  rich(gH, hlx(l), 698.5, "+", {size:11, anchor:"middle"});
  rich(gH, hlx(l), 711.8, "+", {size:11, anchor:"middle"});
  const parts = i === 0 ? [["wild-type"]] : [["Zα1α2"],["mut","^"]];
  rich(gH, hlx(l) - 0.5, 688, parts, {size:11, rot:-56});
});
</script>
</body></html>
